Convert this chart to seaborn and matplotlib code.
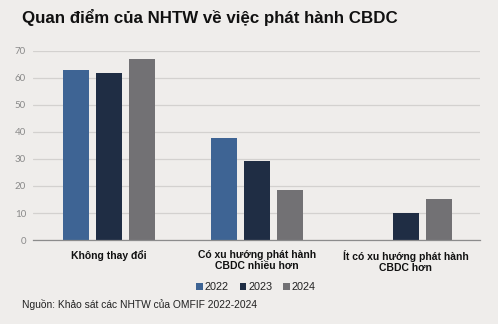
import matplotlib
matplotlib.use("Agg")
import matplotlib.pyplot as plt
import seaborn as sns
import pandas as pd

# Survey responses (% of central banks) by outlook category and year
categories = ["Không thay đổi", "Có xu hướng phát hành\nCBDC nhiều hơn", "Ít có xu hướng phát hành\nCBDC hơn"]
years = ["2022", "2023", "2024"]
values_2022 = [62.7, 37.7, 0.0]
values_2023 = [61.6, 29.3, 9.9]
values_2024 = [66.9, 18.4, 15.3]
y_ticks = [0, 10, 20, 30, 40, 50, 60, 70]

title = "Quan điểm của NHTW về việc phát hành CBDC"
source = "Nguồn: Khảo sát các NHTW của OMFIF 2022-2024"

palette = {"2022": "#3e6494", "2023": "#1f2d44", "2024": "#727174"}
bg = "#efedeb"

rows = []
for year, vals in zip(years, [values_2022, values_2023, values_2024]):
    for cat, v in zip(categories, vals):
        rows.append({"category": cat, "year": year, "value": v})
df = pd.DataFrame(rows)

sns.set_theme(style="white")
plt.rcParams["font.family"] = ["Liberation Sans", "DejaVu Sans"]

fig = plt.figure(figsize=(4.98, 3.24), dpi=100, facecolor=bg)
ax = fig.add_axes([0.066, 0.259, 0.898, 0.5845])
ax.set_facecolor(bg)

sns.barplot(data=df, x="category", y="value", hue="year", order=categories,
            hue_order=years, palette=palette, width=0.667, gap=0.21,
            linewidth=0, saturation=1, ax=ax, legend=True)

ax.set_ylim(0, 70)
ax.set_xlim(-0.51, 2.5)
ax.set_yticks(y_ticks)
ax.set_yticklabels([str(t) for t in y_ticks], color="#8a8a8a", fontsize=7,
                   family=["Lato", "DejaVu Sans"])
ax.tick_params(axis="y", length=0, pad=5)
ax.tick_params(axis="x", length=0, pad=7)
for lbl in ax.get_xticklabels():
    lbl.set_fontweight("bold")
    lbl.set_fontsize(7.5)
    lbl.set_color("#111111")
    lbl.set_linespacing(1.2)

ax.set_xlabel("")
ax.set_ylabel("")
ax.yaxis.grid(True, color="#d3d1cf", linewidth=0.9)
ax.set_axisbelow(True)
for side in ["top", "right", "left"]:
    ax.spines[side].set_visible(False)
ax.spines["bottom"].set_color("#8c8c8c")
ax.spines["bottom"].set_linewidth(0.9)

leg = ax.legend(loc="center", bbox_to_anchor=(256 / 498, 1 - 287 / 324), bbox_transform=fig.transFigure,
                ncol=3, frameon=False, fontsize=7.8, handlelength=0.6, handleheight=0.6,
                handletextpad=0.2, columnspacing=1.0)
for t in leg.get_texts():
    t.set_color("#222222")

fig.text(22 / 498, 1 - 17 / 324, title, fontsize=12.2, fontweight="bold",
         color="#111111", va="center", ha="left")
fig.text(22 / 498, 1 - 305 / 324, source, fontsize=7.4, color="#222222",
         va="center", ha="left")

fig.savefig("out.png", dpi=100, facecolor=bg)
